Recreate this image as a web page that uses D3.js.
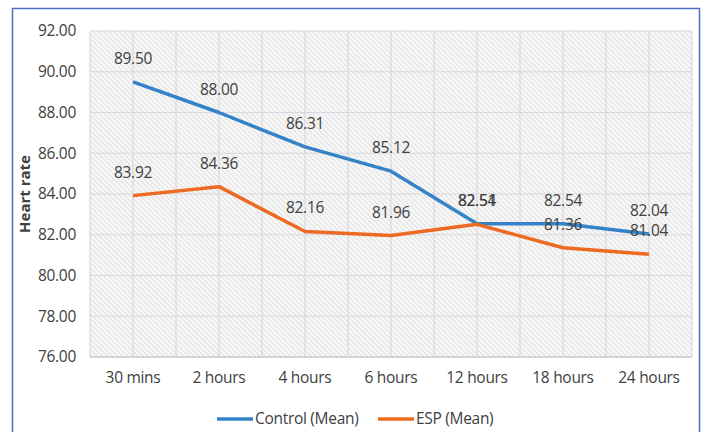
<!DOCTYPE html>
<html><head><meta charset="utf-8">
<script src="https://cdn.jsdelivr.net/npm/d3@7"></script>
<style>body{margin:0;background:#fff}svg{display:block}text{font-family:"Open Sans",sans-serif}</style>
</head><body><svg id="c" width="703" height="432"></svg>
<script>
const categories = ["30 mins","2 hours","4 hours","6 hours","12 hours","18 hours","24 hours"];
const controlMean = [89.50, 88.00, 86.31, 85.12, 82.54, 82.54, 82.04];
const espMean = [83.92, 84.36, 82.16, 81.96, 82.51, 81.36, 81.04];
const yTicks = [76,78,80,82,84,86,88,90,92];
const seriesNames = ["Control (Mean)","ESP (Mean)"];
const seriesColors = ["#3483c8","#ec6a22"];
const FONT = "'Open Sans',sans-serif";
const FS = 15.5;

const svg = d3.select("#c");
const m = {l:90, r:692, t:31, b:357};
const x = d3.scaleBand().domain(categories).range([m.l, m.r]);
const y = d3.scaleLinear().domain([76,92]).range([m.b, m.t]);

svg.append("rect").attr("x",12.5).attr("y",8.5).attr("width",687).attr("height",430)
  .attr("fill","#fff").attr("stroke","#4a6fc0").attr("stroke-width",1.5);

const defs = svg.append("defs");
const pat = defs.append("pattern").attr("id","hatch").attr("patternUnits","userSpaceOnUse")
  .attr("width",3.6).attr("height",3.6).attr("patternTransform","rotate(-45)");
pat.append("rect").attr("width",3.6).attr("height",3.6).attr("fill","#f7f7f7");
pat.append("line").attr("x1",0).attr("y1",0).attr("x2",0).attr("y2",3.6)
  .attr("stroke","#d4d4d4").attr("stroke-width",1.3);

svg.append("rect").attr("x",m.l).attr("y",m.t).attr("width",m.r-m.l).attr("height",m.b-m.t)
  .attr("fill","url(#hatch)");

const g = svg.append("g");
yTicks.forEach(t=>{
  g.append("line").attr("x1",m.l).attr("x2",m.r).attr("y1",y(t)).attr("y2",y(t))
   .attr("stroke", t===76 ? "#c8c8c8" : "#d8d8e0").attr("stroke-width", t===76?1.5:1.2);
});
categories.forEach(c=>{
  [x(c), x(c)+x.bandwidth()/2].forEach(xx=>{
    g.append("line").attr("x1",xx).attr("x2",xx).attr("y1",m.t).attr("y2",m.b)
     .attr("stroke","#d8d8e0").attr("stroke-width",1.2);
  });
});
g.append("line").attr("x1",m.r).attr("x2",m.r).attr("y1",m.t).attr("y2",m.b)
     .attr("stroke","#d8d8e0").attr("stroke-width",1.2);

const yAxis = svg.append("g").attr("transform",`translate(${m.l-14},0)`)
  .call(d3.axisLeft(y).tickValues(yTicks).tickFormat(d3.format(".2f")).tickSize(0).tickPadding(0));
yAxis.select(".domain").remove();
yAxis.selectAll("text").attr("font-size",FS).attr("fill","#404040").attr("font-family",FONT).attr("letter-spacing",-0.3);

const xAxis = svg.append("g").attr("transform",`translate(0,${m.b})`)
  .call(d3.axisBottom(x).tickSize(0).tickPadding(15));
xAxis.select(".domain").remove();
xAxis.selectAll("text").attr("font-size",FS).attr("fill","#404040").attr("font-family",FONT).attr("letter-spacing",-0.3);

svg.append("text").attr("transform",`translate(30,${(m.t+m.b)/2}) rotate(-90)`)
  .attr("text-anchor","middle").attr("font-size",15).attr("font-weight","bold").attr("fill","#404040")
  .text("Heart rate");

const cx = c => x(c) + x.bandwidth()/2;
const line = d3.line().x((d,i)=>cx(categories[i])).y(d=>y(d));
[controlMean, espMean].forEach((s,k)=>{
  svg.append("path").datum(s).attr("d",line).attr("fill","none")
    .attr("stroke",seriesColors[k]).attr("stroke-width",3.5).attr("stroke-linejoin","round");
});
[controlMean, espMean].forEach((s,k)=>{
  s.forEach((v,i)=>{
    svg.append("text").attr("x",cx(categories[i])).attr("y",y(v)-18)
      .attr("text-anchor","middle").attr("font-size",FS).attr("fill","#404040").attr("letter-spacing",-0.3)
      .text(v.toFixed(2));
  });
});

const leg = [{x:217,t:seriesNames[0],c:seriesColors[0]},{x:378,t:seriesNames[1],c:seriesColors[1]}];
leg.forEach(l=>{
  svg.append("line").attr("x1",l.x).attr("x2",l.x+36).attr("y1",419).attr("y2",419)
    .attr("stroke",l.c).attr("stroke-width",3.5);
  svg.append("text").attr("x",l.x+38).attr("y",424).attr("font-size",FS).attr("fill","#404040").attr("letter-spacing",-0.3).text(l.t);
});
</script></body></html>
